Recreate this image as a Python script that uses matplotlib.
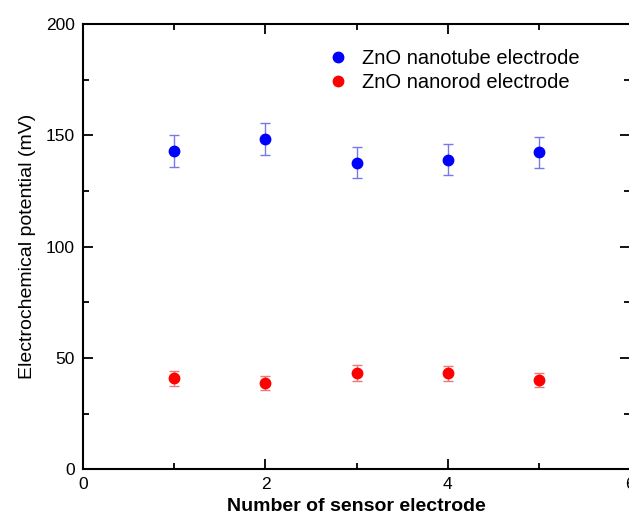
import matplotlib.pyplot as plt
from matplotlib.lines import Line2D
from matplotlib.ticker import MultipleLocator

plt.rcParams["font.family"] = ["Liberation Sans", "DejaVu Sans"]

electrode = [1, 2, 3, 4, 5]
nanotube = [143.1, 148.4, 137.8, 139.0, 142.5]
nanotube_err = [7.2, 7.3, 7.0, 7.0, 7.0]
nanorod = [40.8, 38.8, 43.3, 43.0, 40.0]
nanorod_err = [3.3, 3.2, 3.5, 3.4, 3.1]
labels = ["ZnO nanotube electrode", "ZnO nanorod electrode"]
colors = ["#0000ff", "#ff0000"]

fig = plt.figure(figsize=(6.29, 5.15), dpi=100)
ax = fig.add_axes([0.132, 0.089, 0.870, 0.864])

ax.errorbar(electrode, nanotube, yerr=nanotube_err, fmt="o", color=colors[0],
            ecolor="#7777ee", elinewidth=1, capsize=3.3, capthick=1,
            markersize=7.5)
ax.errorbar(electrode, nanorod, yerr=nanorod_err, fmt="o", color=colors[1],
            ecolor="#ee7777", elinewidth=1, capsize=3.3, capthick=1,
            markersize=7.5)

ax.set_xlim(0, 6)
ax.set_ylim(0, 200)
ax.xaxis.set_major_locator(MultipleLocator(2))
ax.xaxis.set_minor_locator(MultipleLocator(1))
ax.yaxis.set_major_locator(MultipleLocator(50))
ax.yaxis.set_minor_locator(MultipleLocator(25))
ax.tick_params(which="both", direction="in", top=True, right=True,
               labelsize=12.5, width=1.3, pad=6)
ax.tick_params(which="major", length=7)
ax.tick_params(which="minor", length=4)
for s in ax.spines.values():
    s.set_linewidth(1.5)

ax.set_xlabel("Number of sensor electrode", fontsize=14, fontweight="bold",
              labelpad=4)
ax.set_ylabel("Electrochemical potential (mV)", fontsize=14, labelpad=7)

handles = [Line2D([], [], marker="o", linestyle="none", color=c, markersize=7.5)
           for c in colors]
ax.legend(handles, labels, loc="upper left", bbox_to_anchor=(0.41, 0.985),
          frameon=False, fontsize=14.5, handletextpad=0.6, handlelength=1.2,
          labelspacing=0.25)

fig.savefig("out.png", dpi=100)
